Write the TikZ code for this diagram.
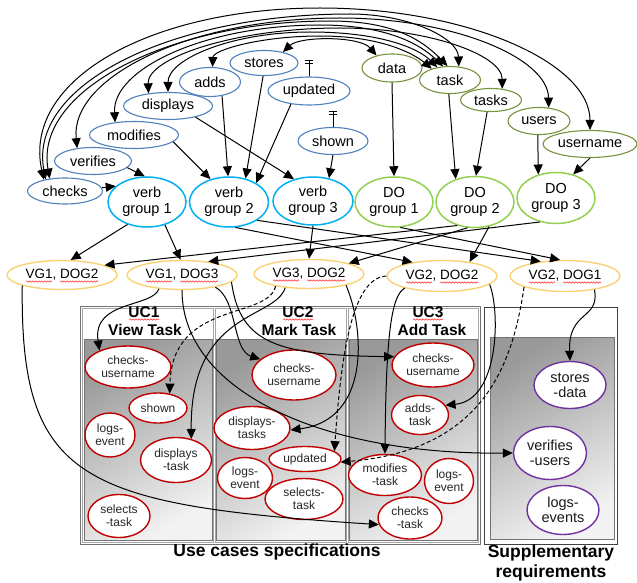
\documentclass[tikz,border=0pt]{standalone}
\usepackage{fontspec}
\setmainfont{Liberation Sans}
\usetikzlibrary{arrows.meta,shapes.geometric,decorations.pathmorphing}
\definecolor{wordblue}{RGB}{79,129,189}
\definecolor{grpblue}{RGB}{0,176,240}
\definecolor{wordgreen}{RGB}{119,147,60}
\definecolor{grpgreen}{RGB}{146,208,80}
\definecolor{vgyellow}{RGB}{250,210,115}
\definecolor{ucred}{RGB}{192,0,0}
\definecolor{suppurple}{RGB}{112,48,160}
\tikzset{
  base/.style={ellipse, inner sep=0pt, align=center, fill=white},
  sz/.style 2 args={minimum width=#1pt, minimum height=#2pt},
  vw/.style={base, draw=wordblue, line width=1.1pt, font=\fontsize{14.5}{16}\selectfont},
  ow/.style={base, draw=wordgreen, line width=1.1pt, font=\fontsize{14.5}{16}\selectfont},
  vgrp/.style={base, draw=grpblue, line width=1.5pt, font=\fontsize{14.5}{16}\selectfont},
  ogrp/.style={base, draw=grpgreen, line width=1.5pt, font=\fontsize{14.5}{16}\selectfont},
  comb/.style={base, draw=vgyellow, line width=1.4pt, font=\fontsize{13.5}{15}\selectfont},
  ucel/.style={base, draw=ucred, line width=1.4pt, font=\fontsize{12}{13}\selectfont, text=black!85},
  supel/.style={base, draw=suppurple, line width=1.4pt, font=\fontsize{14.5}{15}\selectfont, text=black!90},
  tip/.tip={Triangle[length=10pt,width=9pt]},
  conn/.style={line width=1pt, -tip},
  dconn/.style={conn, dash pattern=on 4pt off 2.5pt},
  biconn/.style={line width=1pt, tip-tip},
  tbar/.style={line width=0.9pt},
  panel/.style={draw=black!55, line width=0.6pt, top color=black!40, bottom color=black!5, shading angle=30},
  ttl/.style={font=\fontsize{15.5}{17}\selectfont\bfseries, inner sep=0pt},
  lbl/.style={font=\fontsize{17.5}{20.5}\selectfont\bfseries, inner sep=0pt, align=center},
  squig/.style={draw=red!85, line width=0.5pt, decorate, decoration={snake, amplitude=0.7pt, segment length=3pt}}
}
\begin{document}
\begin{tikzpicture}[x=1pt,y=-1pt]
\useasboundingbox (0,0) rectangle (637,583);
\fill[white] (0,0) rectangle (637,583);

% ---------- boxes ----------
\draw[black!55, line width=0.8pt] (80,306) rectangle (480,544);
\draw[black!35, line width=0.7pt] (82,308) rectangle (213,542);
\draw[black!35, line width=0.7pt] (215,308) rectangle (346,542);
\draw[black!35, line width=0.7pt] (348,308) rectangle (478,542);
\path[panel] (84,339) rectangle (212,540);
\path[panel] (216,339) rectangle (345,540);
\path[panel] (349,339) rectangle (477,540);
\draw[black!75, line width=0.7pt] (484,307) rectangle (617,544);
\path[panel] (490,337) rectangle (614,539);

\node[ttl] (t1a) at (144,312) {UC1};
\node[ttl] (t1b) at (145,330) {View Task};
\node[ttl] (t2a) at (298,312) {UC2};
\node[ttl] (t2b) at (299,330) {Mark Task};
\node[ttl] (t3a) at (428,312) {UC3};
\node[ttl] (t3b) at (432,330) {Add Task};
\node[lbl] (ucs) at (277,552) {Use cases specifications};
\node[lbl] (supl) at (551,563) {Supplementary\\requirements};
\foreach \t in {t1a,t2a,t3a}
  \draw[squig] ([shift={(-15pt,-7.5pt)}]\t.center) -- ++(30,0);

% ---------- verbs ----------
\node[vw, sz={68}{25}] (stores) at (264,63) {stores};
\node[vw, sz={61}{29}] (adds) at (210,82) {adds};
\node[vw, sz={82}{28}] (updated) at (309,91) {updated};
\node[vw, sz={89}{27}] (displays) at (168,106) {displays};
\node[vw, sz={89}{27}] (modifies) at (134,135) {modifies};
\node[vw, sz={77}{27}] (verifies) at (93,161) {verifies};
\node[vw, sz={75}{26}] (checks) at (65,191) {checks};
\node[vw, sz={70}{27}] (shown) at (333,141) {shown};

% ---------- direct objects ----------
\node[ow, sz={60}{28}] (data) at (392,68) {data};
\node[ow, sz={61}{27}] (task) at (450,80) {task};
\node[ow, sz={61}{23}] (tasks) at (491,100) {tasks};
\node[ow, sz={62}{27}] (users) at (539,121) {users};
\node[ow, sz={94}{27}] (username) at (590,144) {username};

% ---------- groups ----------
\node[vgrp, sz={78}{50}] (vg1) at (147,202) {verb\\group 1};
\node[vgrp, sz={79}{50}] (vg2) at (229,202) {verb\\group 2};
\node[vgrp, sz={80}{48}] (vg3) at (313,201) {verb\\group 3};
\node[ogrp, sz={78}{50}] (dg1) at (394,202) {DO\\group 1};
\node[ogrp, sz={78}{51}] (dg2) at (475,202) {DO\\group 2};
\node[ogrp, sz={78}{51}] (dg3) at (556,198) {DO\\group 3};

% ---------- combinations ----------
\node[comb, sz={110}{29}] (y12) at (62,275) {VG1, DOG2};
\node[comb, sz={110}{29}] (y13) at (182,275) {VG1, DOG3};
\node[comb, sz={110}{29}] (y32) at (309,274) {VG3, DOG2};
\node[comb, sz={110}{31}] (y22) at (442,276) {VG2, DOG2};
\node[comb, sz={110}{31}] (y21) at (565,276) {VG2, DOG1};
\foreach \y in {y12,y13,y32,y22,y21} {
  \draw[squig] ([shift={(-36pt,-6.5pt)}]\y.center) -- ++(26,0);
  \draw[squig] ([shift={(-2pt,-6.5pt)}]\y.center) -- ++(38,0);
}

% ---------- use case elements ----------
\node[ucel, sz={86}{42}] (u1cu) at (128,367) {checks-\\username};
\node[ucel, sz={58}{30}] (u1shown) at (158,408) {shown};
\node[ucel, sz={50}{44}] (u1logs) at (110,435) {logs-\\event};
\node[ucel, sz={71}{45}] (u1disp) at (176,460) {displays\\-task};
\node[ucel, sz={62}{43}] (u1sel) at (119,516) {selects\\-task};
\node[ucel, sz={84}{50}] (u2cu) at (294,375) {checks-\\username};
\node[ucel, sz={76}{43}] (u2disp) at (252,428) {displays-\\tasks};
\node[ucel, sz={72}{25}] (u2upd) at (305,459) {updated};
\node[ucel, sz={55}{41}] (u2logs) at (245,478) {logs-\\event};
\node[ucel, sz={78}{41}] (u2sel) at (304,499) {selects-\\task};
\node[ucel, sz={82}{44}] (u3cu) at (433,365) {checks-\\username};
\node[ucel, sz={57}{39}] (u3adds) at (420,415) {adds-\\task};
\node[ucel, sz={73}{41}] (u3mod) at (385,475) {modifies\\-task};
\node[ucel, sz={49}{45}] (u3logs) at (449,481) {logs-\\event};
\node[ucel, sz={64}{42}] (u3chk) at (410,518) {checks\\-task};
\node[supel, sz={72}{47}] (sstores) at (570,385) {stores\\-data};
\node[supel, sz={73}{53}] (sverif) at (550,453) {verifies\\-users};
\node[supel, sz={72}{49}] (slogs) at (563,510) {logs-\\events};

% ---------- T symbols ----------
\draw[tbar] (updated.north) -- ++(0,-16) coordinate (tu);
\draw[tbar] ([xshift=-4pt]tu) -- ([xshift=4pt]tu);
\draw[tbar] ([shift={(-4pt,-3pt)}]tu) -- ([shift={(4pt,-3pt)}]tu);
\draw[tbar] (shown.north) -- ++(0,-15) coordinate (ts);
\draw[tbar] ([xshift=-4pt]ts) -- ([xshift=4pt]ts);
\draw[tbar] ([shift={(-4pt,-3pt)}]ts) -- ([shift={(4pt,-3pt)}]ts);

% ---------- top arcs ----------
\draw[biconn] (checks.152) .. controls (22,80) and (150,8) .. (320,8) .. controls (468,8) and (590,63) .. (username.90);
\draw[biconn] (checks.149) .. controls (28,85) and (170,14) .. (350,14) .. controls (409,14) and (458,38) .. (task.57);
\draw[biconn] (verifies.141) .. controls (70,77) and (190,18) .. (340,18) .. controls (454,18) and (548,58) .. (users.54);
\draw[biconn] (checks.141) .. controls (34,90) and (170,21) .. (330,21) .. controls (395,21) and (423,41) .. (task.100);
\draw[biconn] (modifies.146) .. controls (112,69) and (205,25) .. (320,25) .. controls (388,25) and (421,45) .. (task.117);
\draw[biconn] (displays.147) .. controls (147,58) and (235,28) .. (340,28) .. controls (429,28) and (502,55) .. (tasks.45);
\draw[biconn] (displays.90) .. controls (168,59) and (232,32) .. (310,32) .. controls (380,32) and (418,48) .. (task.135);
\draw[biconn] (adds.80) .. controls (213,50) and (261,36) .. (320,36) .. controls (382,36) and (414,54) .. (task.148);
\draw[biconn] (stores.30) .. controls (300,36) and (360,36) .. (data.141);

% ---------- words to groups ----------
\draw[conn] (verifies.-11) -- (vg1.95);
\draw[conn] (checks.5) -- (vg1.153);
\draw[conn] (modifies.-10) -- (vg2.129);
\draw[conn] (adds.-49) -- (vg2.92);
\draw[conn] (stores.-94) -- (vg2.55);
\draw[conn] (updated.-144) -- (vg2.35);
\draw[conn] (displays.-22) -- (vg3.131);
\draw[conn] (shown.-90) -- (vg3.55);
\draw[conn] (data.-90) -- (dg1.90);
\draw[conn] (task.-95) -- (dg2.130);
\draw[conn] (tasks.-108) -- (dg2.88);
\draw[conn] (users.-95) -- (dg3.127);
\draw[conn] (username.-90) -- (dg3.54);

% ---------- groups to combinations ----------
\draw[conn] (vg1.-131) -- (y12.60);
\draw[conn] (vg1.-52) -- (y13.95);
\draw[conn] (dg2.-127) -- (y12.13);
\draw[conn] (dg2.-106) -- (y32.15);
\draw[conn] (dg2.-60) -- (y22.27);
\draw[conn] (dg3.-124) -- (y13.27);
\draw[conn] (vg3.-90) -- (y32.90);
\draw[conn] (vg2.-76) -- (y22.155);
\draw[conn] (vg2.-33) -- (y21.149);
\draw[conn] (dg1.-76) -- (y21.107);

% ---------- combinations to use case elements ----------
\draw[conn] (y12.-165) .. controls (20,480) and (80,505) .. (u3chk.-168);
\draw[conn] (y13.-149) .. controls (152,308) and (92,300) .. (u1cu.150);
\draw[conn] (y13.-20) .. controls (238,300) and (232,350) .. (u2cu.155);
\draw[conn] (y13.-8) .. controls (240,345) and (280,355) .. (u3cu.168);
\draw[conn] (y13.-90) .. controls (182,390) and (320,455) .. (sverif.180);
\draw[conn] (y32.-150) .. controls (275,320) and (190,310) .. (u1disp.54);
\draw[dconn] (y32.-160) .. controls (268,320) and (172,300) .. (u1shown.51);
\draw[conn] (y32.-17) .. controls (365,330) and (370,420) .. (u2disp.-3);
\draw[dconn] (y22.180) .. controls (355,278) and (342,340) .. (u2upd.15);
\draw[conn] (y22.-162) .. controls (392,295) and (386,330) .. (u3mod.90);
\draw[conn] (y22.-10) .. controls (500,310) and (500,400) .. (u3adds.21);
\draw[dconn] (y21.-165) .. controls (512,370) and (480,450) .. (u2upd.-5);
\draw[conn] (y21.-25) .. controls (600,320) and (568,310) .. (sstores.90);
\end{tikzpicture}
\end{document}
